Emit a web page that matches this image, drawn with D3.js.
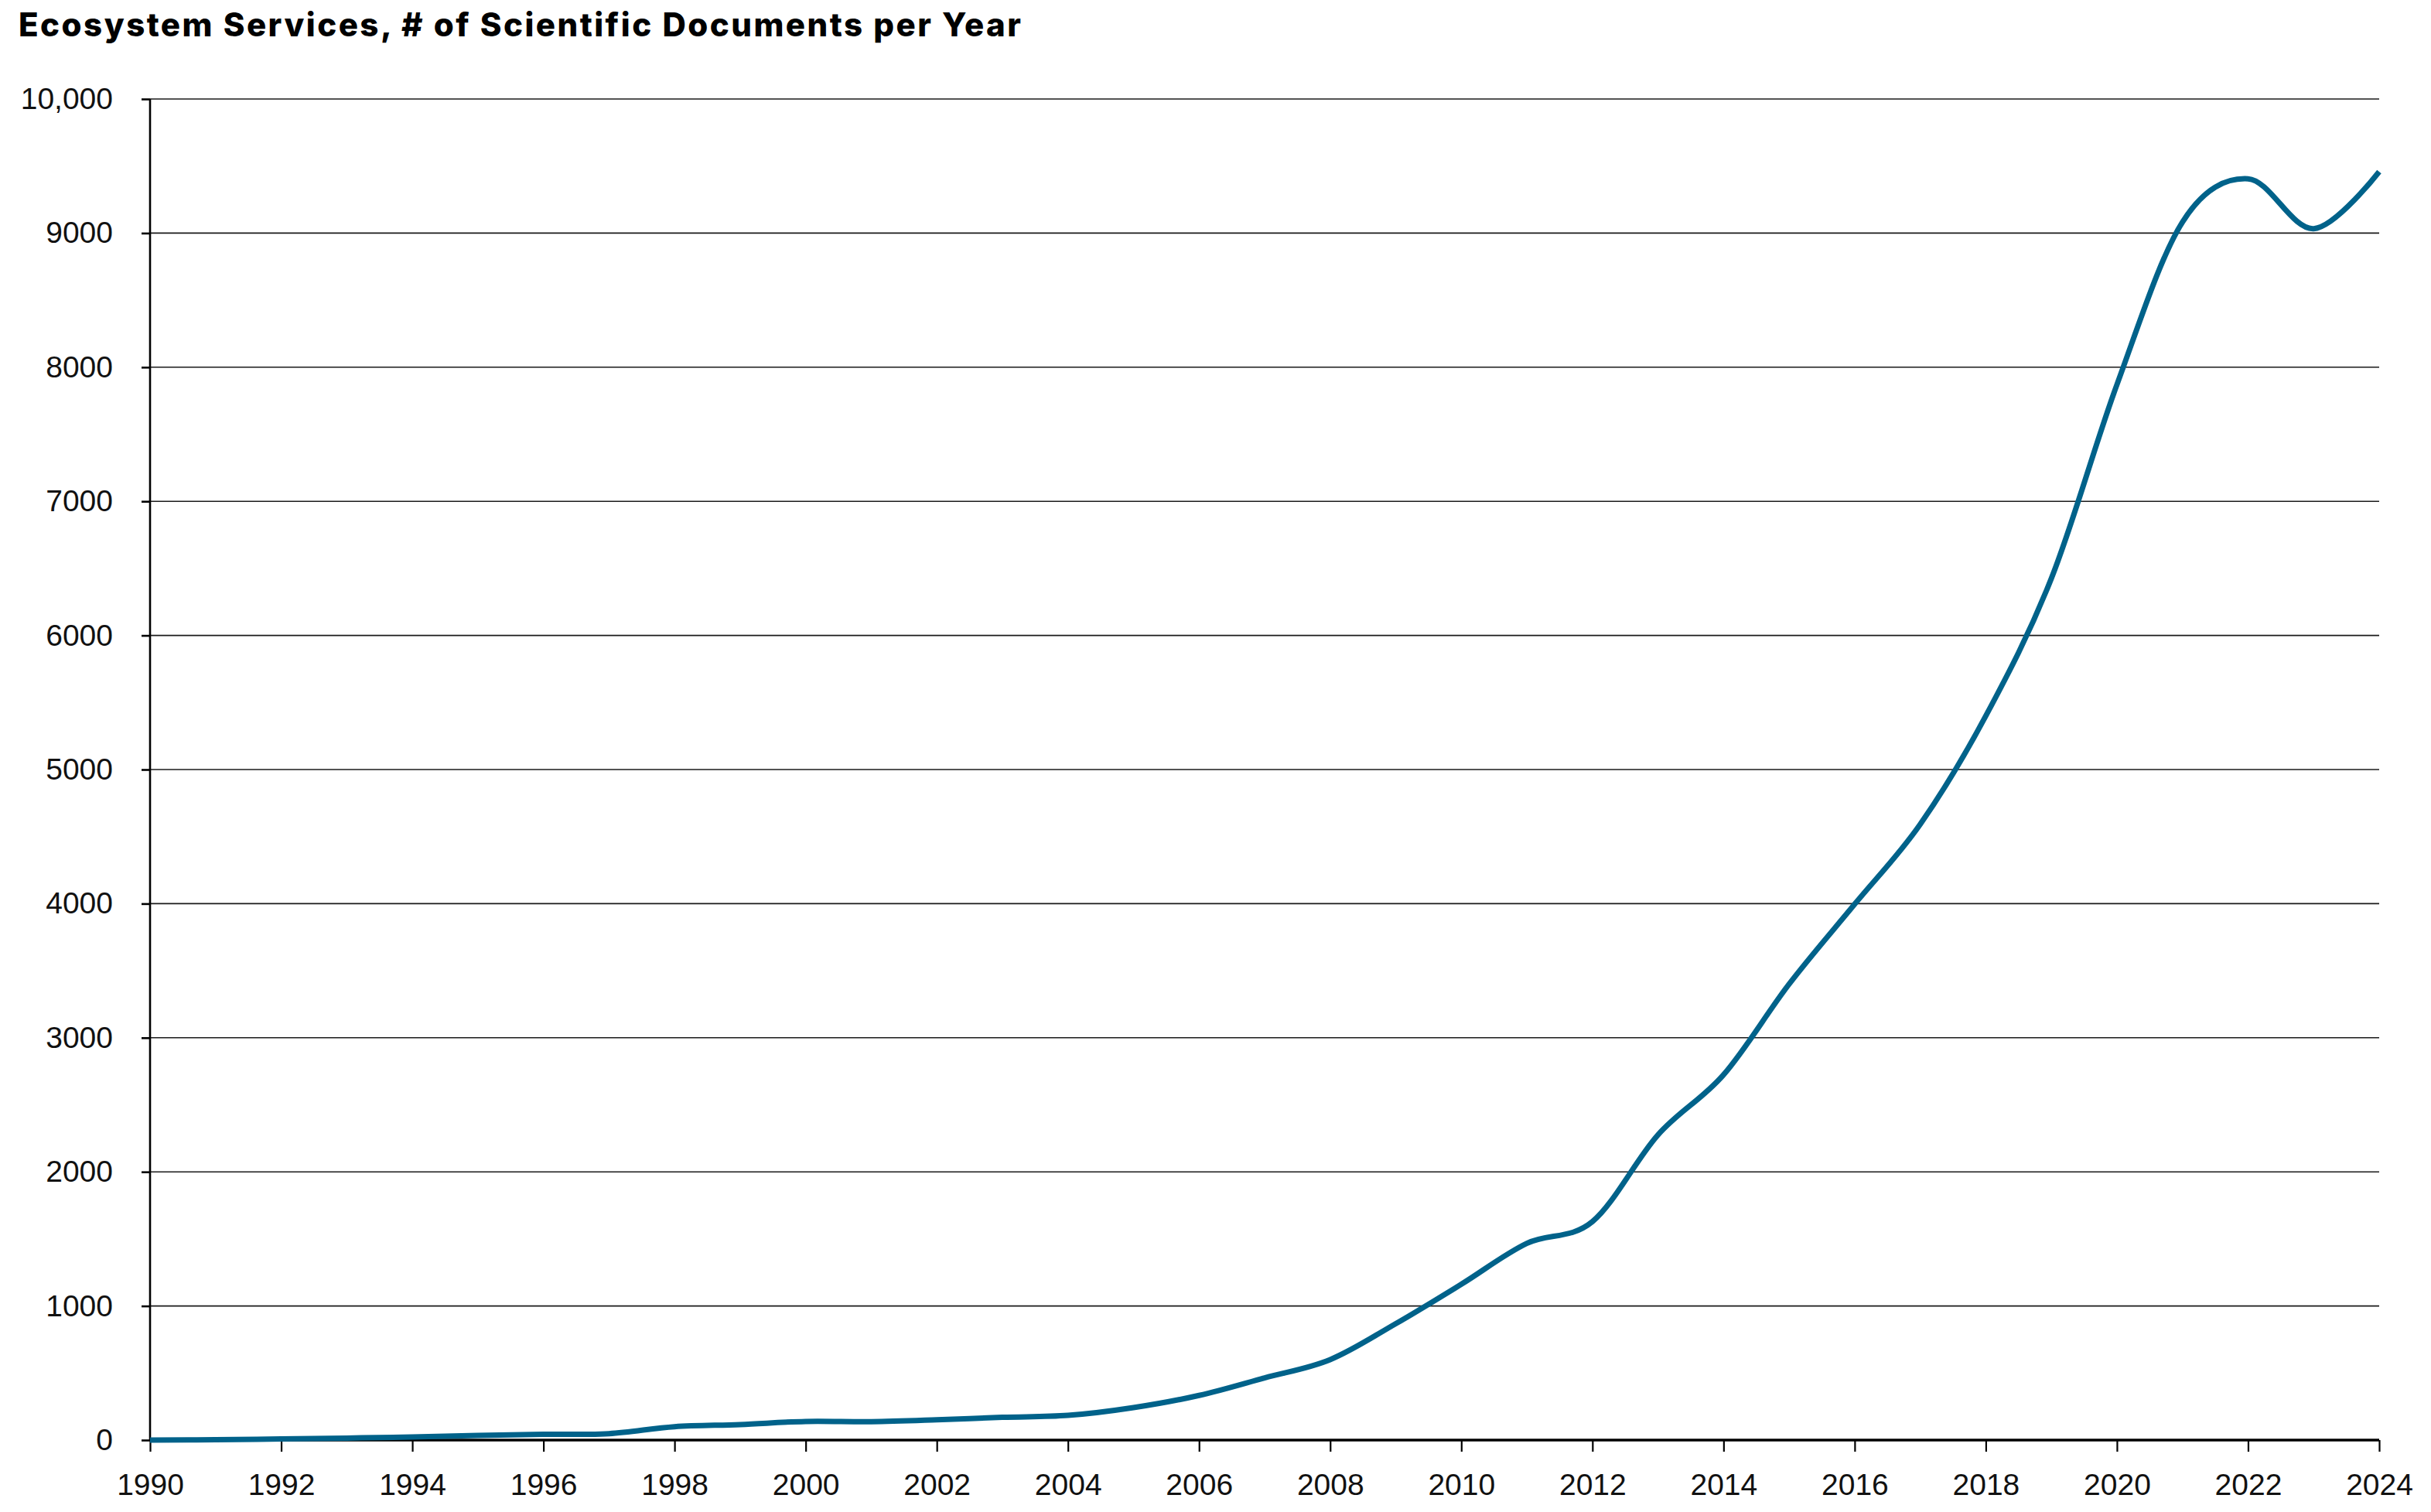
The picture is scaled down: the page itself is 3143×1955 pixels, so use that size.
<!DOCTYPE html>
<html>
<head>
<meta charset="utf-8">
<script src="https://cdn.jsdelivr.net/npm/d3@7"></script>
<style>
  html, body { margin: 0; padding: 0; background: #ffffff; }
  svg { display: block; }
</style>
</head>
<body>
<svg id="chart" width="3143" height="1955"></svg>
<script>
// ---- Data ----
const titleText = "Ecosystem Services, # of Scientific Documents per Year";
const years = [1990,1991,1992,1993,1994,1995,1996,1997,1998,1999,
               2000,2001,2002,2003,2004,2005,2006,2007,2008,2009,
               2010,2011,2012,2013,2014,2015,2016,2017,2018,2019,
               2020,2021,2022,2023,2024];
const documents = [0,3,8,15,23,35,43,48,100,116,
                   139,137,151,170,184,242,333,464,600,868,
                   1162,1467,1629,2276,2724,3400,3996,4592,5400,6425,
                   7870,9083,9405,9033,9458];
const xTickValues = [1990,1992,1994,1996,1998,2000,2002,2004,2006,2008,2010,2012,2014,2016,2018,2020,2022,2024];
const yTickValues = [0,1000,2000,3000,4000,5000,6000,7000,8000,9000,10000];
const yTickLabels = ["0","1000","2000","3000","4000","5000","6000","7000","8000","9000","10,000"];

(function () {
  const series = years.map((yr, i) => ({year: yr, value: documents[i]}));

  // ---- Layout ----
  const svg = d3.select("#chart");
  const plotLeft = 194, plotRight = 3076, plotTop = 128, plotBottom = 1862;
  const tickFont = "'Liberation Sans', Arial, sans-serif";

  const x = d3.scaleLinear().domain([1990, 2024]).range([plotLeft, plotRight]);
  const y = d3.scaleLinear().domain([0, 10000]).range([plotBottom, plotTop]);

  // Title
  const title = svg.append("text")
    .attr("x", 24)
    .attr("y", 47)
    .attr("font-family", "Inter, 'Liberation Sans', Arial, sans-serif")
    .attr("font-weight", 800)
    .attr("font-size", 42)
    .attr("fill", "#000")
    .text(titleText);
  {
    const w = title.node().getComputedTextLength();
    const target = 1296;
    const n = titleText.length;
    title.attr("letter-spacing", ((target - w) / (n - 1)).toFixed(3));
  }

  // Gridlines
  svg.append("g")
    .selectAll("line")
    .data(yTickValues.filter(d => d > 0))
    .join("line")
    .attr("x1", plotLeft).attr("x2", plotRight)
    .attr("y1", d => y(d)).attr("y2", d => y(d))
    .attr("stroke", "#1a1a1a")
    .attr("stroke-width", 1.6);

  // Y axis
  const yAxis = d3.axisLeft(y)
    .tickValues(yTickValues)
    .tickFormat((d, i) => yTickLabels[i])
    .tickSize(11)
    .tickPadding(37);
  const gy = svg.append("g")
    .attr("transform", `translate(${plotLeft},0)`)
    .call(yAxis);
  gy.select(".domain").attr("stroke", "#000").attr("stroke-width", 2.6).attr("d", `M0,${plotTop}V${plotBottom}`);
  gy.selectAll(".tick line").attr("stroke", "#000").attr("stroke-width", 2.6);
  gy.selectAll(".tick text")
    .attr("font-family", tickFont)
    .attr("font-size", 39)
    .attr("fill", "#111");

  // X axis
  const xAxis = d3.axisBottom(x)
    .tickValues(xTickValues)
    .tickFormat(d3.format("d"))
    .tickSize(15)
    .tickPadding(28);
  const gx = svg.append("g")
    .attr("transform", `translate(0,${plotBottom})`)
    .call(xAxis);
  gx.select(".domain").attr("stroke", "#000").attr("stroke-width", 3.4).attr("d", `M${plotLeft},0H${plotRight}`);
  gx.selectAll(".tick line").attr("stroke", "#000").attr("stroke-width", 2.2);
  gx.selectAll(".tick text")
    .attr("font-family", tickFont)
    .attr("font-size", 39)
    .attr("fill", "#111");

  // Line
  const line = d3.line()
    .x(d => x(d.year))
    .y(d => y(d.value))
    .curve(d3.curveCardinal.tension(0));

  svg.append("path")
    .datum(series)
    .attr("d", line)
    .attr("fill", "none")
    .attr("stroke", "#00628a")
    .attr("stroke-width", 7)
    .attr("stroke-linejoin", "round")
    .attr("stroke-linecap", "butt");
})();
</script>
</body>
</html>
